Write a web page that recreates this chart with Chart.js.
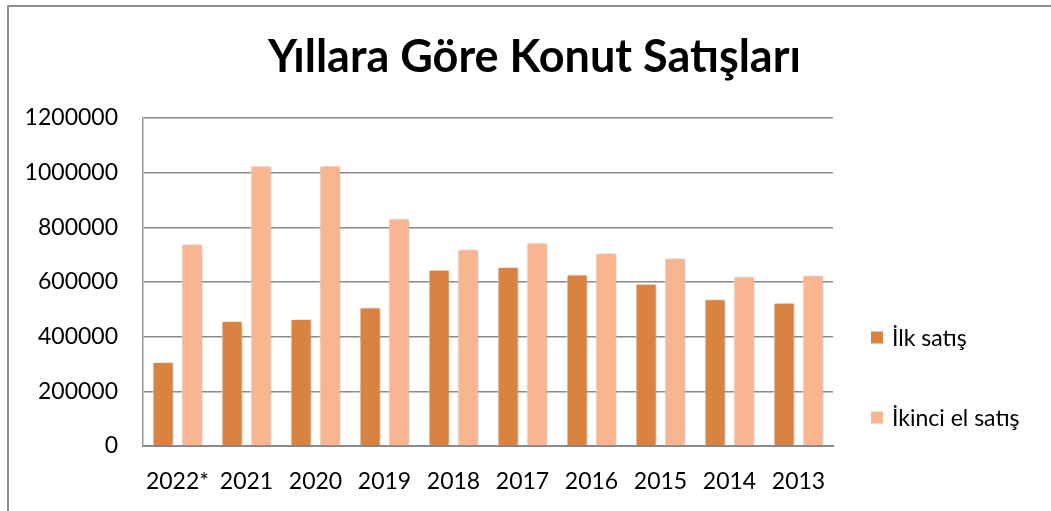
<!DOCTYPE html>
<html>
<head>
<meta charset="utf-8">
<script src="https://cdn.jsdelivr.net/npm/chart.js@4/dist/chart.umd.min.js"></script>
<style>
  html, body { margin: 0; padding: 0; background: #fff; }
  #wrap { position: relative; width: 1051px; height: 511px; overflow: hidden; }
  #frame { position: absolute; left: 7px; top: 5px; width: 1100px; height: 600px;
           border-left: 2px solid #8e8e8e; border-top: 2px solid #8e8e8e; pointer-events: none; }
</style>
</head>
<body>
<div id="wrap">
  <canvas id="sales-chart" width="1051" height="511"></canvas>
  <div id="frame"></div>
</div>
<script>
// Years (newest first, as in the source)
const years = ["2022*", "2021", "2020", "2019", "2018", "2017", "2016", "2015", "2014", "2013"];

// First-hand sales
const firstSales = [307000, 457000, 465000, 507000, 645000, 655000, 627000, 594000, 537000, 524000];

// Second-hand sales
const secondSales = [739000, 1025000, 1025000, 832000, 719000, 744000, 705000, 687000, 620000, 624000];

// Y axis ticks
const yTicks = [0, 200000, 400000, 600000, 800000, 1000000, 1200000];

const seriesNames = ["İlk satış", "İkinci el satış"];
const seriesColors = ["#DA8340", "#F8B590"];

const fontFamily = "Lato, 'Noto Sans', sans-serif";

// soft shadow behind the bars, like the office chart
const barShadow = {
  id: "barShadow",
  beforeDatasetsDraw(chart) {
    const ctx = chart.ctx;
    ctx.save();
    ctx.shadowColor = "rgba(0, 0, 0, 0.3)";
    ctx.shadowBlur = 5;
    ctx.shadowOffsetX = 2;
    ctx.shadowOffsetY = 0;
  },
  afterDatasetsDraw(chart) {
    chart.ctx.restore();
  }
};

// legend on the right, items far apart
const sideLegend = {
  id: "sideLegend",
  afterDraw(chart) {
    const ctx = chart.ctx;
    const x = chart.chartArea.right + 38;
    const rows = [337.5, 417.5];
    ctx.save();
    ctx.font = "23px " + fontFamily;
    ctx.textBaseline = "middle";
    ctx.textAlign = "left";
    chart.data.datasets.forEach((ds, i) => {
      ctx.fillStyle = ds.backgroundColor;
      ctx.fillRect(x, rows[i] - 6, 12, 12);
      ctx.fillStyle = "#000";
      ctx.fillText(ds.label, x + 21, rows[i] + 1);
    });
    ctx.restore();
  }
};

const ctx = document.getElementById("sales-chart");

new Chart(ctx, {
  type: "bar",
  data: {
    labels: years,
    datasets: [
      {
        label: seriesNames[0],
        data: firstSales,
        backgroundColor: seriesColors[0],
        borderColor: "#ffffff",
        borderWidth: 1
      },
      {
        label: seriesNames[1],
        data: secondSales,
        backgroundColor: seriesColors[1],
        borderColor: "#ffffff",
        borderWidth: 1
      }
    ]
  },
  plugins: [barShadow, sideLegend],
  options: {
    responsive: false,
    animation: false,
    layout: {
      padding: { left: 18, right: 0, top: 0, bottom: 0 }
    },
    datasets: {
      bar: { categoryPercentage: 0.84, barPercentage: 0.724 }
    },
    plugins: {
      legend: { display: false },
      tooltip: { enabled: false },
      title: {
        display: true,
        text: "Yıllara Göre Konut Satışları",
        color: "#000",
        font: { family: fontFamily, size: 45, weight: "bold" },
        padding: { top: 30, bottom: 34 }
      }
    },
    scales: {
      x: {
        afterFit(scale) { scale.height = 65; },
        grid: { display: false, drawTicks: false },
        border: { display: true, color: "#8a8a8a", width: 2 },
        ticks: {
          color: "#000",
          padding: 22,
          maxRotation: 0,
          minRotation: 0,
          autoSkip: false,
          font: { family: fontFamily, size: 23 }
        }
      },
      y: {
        min: 0,
        max: 1200000,
        afterFit(scale) { scale.width = 125; },
        afterBuildTicks(scale) { scale.ticks = yTicks.map(v => ({ value: v })); },
        grid: { color: "#8a8a8a", lineWidth: 1.5, drawTicks: false },
        border: { display: true, color: "#9a9a9a", width: 1.5 },
        ticks: {
          color: "#000",
          padding: 25,
          font: { family: fontFamily, size: 23 },
          callback: v => String(v)
        }
      },
      // empty axis that only keeps room for the legend on the right
      side: {
        type: "linear",
        position: "right",
        afterFit(scale) { scale.width = 218; },
        grid: { display: false, drawTicks: false },
        border: { display: false },
        ticks: { display: false }
      }
    }
  }
});
</script>
</body>
</html>
